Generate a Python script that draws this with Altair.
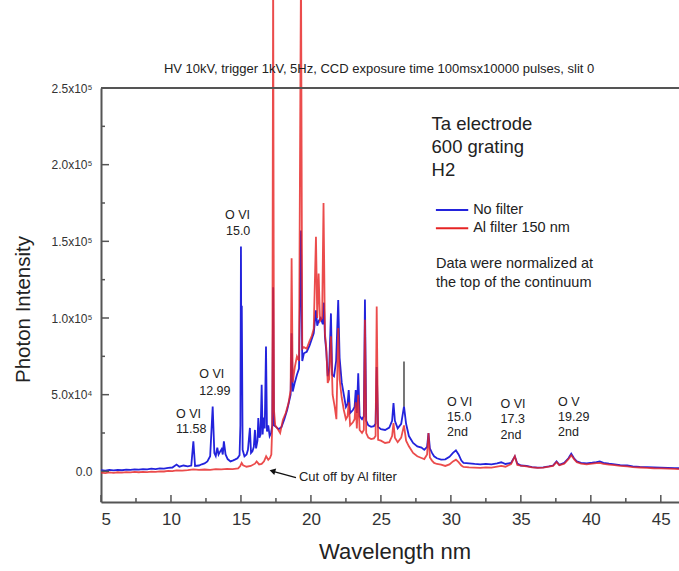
import altair as alt
import pandas as pd

# ---------------- data ----------------
blue_x = [5.0, 5.3, 5.6, 5.9, 6.2, 6.5, 6.8, 7.1, 7.4, 7.7, 8.0, 8.3, 8.6, 8.9, 9.2, 9.5, 9.8, 10.1,
          10.4, 10.6, 10.9, 11.2, 11.45, 11.6, 11.72, 12.0, 12.2, 12.4, 12.6, 12.8, 12.98, 13.1, 13.2,
          13.31, 13.4, 13.52, 13.62, 13.7, 13.78, 13.9, 14.05, 14.25, 14.45, 14.6, 14.75, 14.9, 14.96,
          15.0, 15.03, 15.06, 15.12, 15.25, 15.4, 15.5, 15.64, 15.72, 15.82, 15.92, 16.0, 16.08, 16.18,
          16.24, 16.32, 16.4, 16.48, 16.55, 16.62, 16.7, 16.79, 16.86, 16.95, 17.05, 17.15, 17.24, 17.3,
          17.36, 17.5, 17.7, 17.9, 18.1, 18.3, 18.45, 18.55, 18.62, 18.7, 18.85, 19.0, 19.15, 19.29,
          19.38, 19.5, 19.7, 19.9, 20.05, 20.2, 20.36, 20.45, 20.55, 20.7, 20.85, 20.93, 21.0, 21.1,
          21.2, 21.3, 21.43, 21.52, 21.65, 21.8, 21.95, 22.05, 22.2, 22.35, 22.5, 22.62, 22.7, 22.8,
          23.0, 23.12, 23.2, 23.28, 23.38, 23.48, 23.65, 23.78, 23.86, 23.95, 24.1, 24.3, 24.5, 24.62,
          24.7, 24.8, 25.0, 25.3, 25.6, 25.8, 25.9, 26.0, 26.2, 26.45, 26.65, 26.8, 27.0, 27.3, 27.6,
          27.9, 28.1, 28.3, 28.4, 28.5, 28.65, 28.8, 29.0, 29.3, 29.6, 29.9, 30.15, 30.36, 30.55, 30.75,
          30.9, 31.3, 31.7, 32.1, 32.5, 32.9, 33.3, 33.6, 33.9, 34.3, 34.57, 34.75, 35.0, 35.4, 35.8,
          36.2, 36.6, 37.0, 37.3, 37.55, 37.75, 38.1, 38.4, 38.6, 38.8, 39.0, 39.3, 39.7, 40.1, 40.4,
          40.64, 40.9, 41.3, 41.7, 42.1, 42.6, 43.0, 43.5, 44.0, 44.5, 45.0, 45.5, 46.0, 46.3]
blue_y = [800, 400, 900, 600, 1000, 700, 1100, 900, 1300, 1100, 1500, 1300, 1700, 1500, 1900, 1800, 2300, 2500,
          4400, 3000, 3800, 3300, 3800, 19500, 3500, 3800, 4600, 5200, 6500, 9800, 42300, 12000, 10000,
          15500, 11000, 13000, 14500, 11000, 19500, 11000, 8000, 6500, 7200, 7800, 8500, 10500, 30000,
          146600, 60000, 108000, 14000, 9800, 11000, 14000, 28300, 12000, 13000, 16000, 27000, 15000, 20000,
          34800, 22000, 24000, 56500, 24000, 35000, 28000, 81400, 26000, 30000, 23000, 25000, 30000, 120000,
          30000, 29000, 27500, 29000, 34000, 40000, 46000, 50000, 90000, 52000, 58000, 63000, 67000, 157000,
          72000, 77000, 78000, 82000, 86000, 90000, 105000, 95000, 98000, 100000, 96000, 110000, 88000, 78000,
          62000, 66000, 103000, 63000, 62000, 72000, 111800, 74000, 58000, 50000, 42000, 44000, 53000, 38000,
          40000, 42000, 53000, 38000, 64000, 36000, 34000, 36000, 112000, 33000, 30000, 29000, 29500, 31000,
          68000, 29000, 27500, 27000, 28500, 33000, 44500, 33000, 28000, 31000, 42300, 31000, 23000, 18500, 16300,
          15500, 14000, 16000, 25000, 15000, 12000, 9800, 8500, 7600, 7800, 9500, 12000, 13700, 11000, 7000,
          5500, 5200, 4800, 4500, 4900, 4600, 5200, 5900, 4800, 5500, 9800, 5000, 3800, 3500, 2800,
          2400, 2600, 3200, 3800, 6500, 4200, 5500, 8500, 11500, 8500, 6500, 5500, 5200, 5600, 6000,
          6500, 5500, 5000, 4600, 4000, 3800, 3300, 2900, 2700, 2600, 2400, 2300, 2100, 2000]

red_x = [5.0, 5.3, 5.6, 5.9, 6.2, 6.5, 6.8, 7.1, 7.4, 7.7, 8.0, 8.3, 8.6, 8.9, 9.2, 9.5, 9.8, 10.1,
         10.4, 10.8, 11.2, 11.6, 12.0, 12.4, 12.8, 13.2, 13.6, 14.0, 14.4, 14.8, 14.95, 15.05, 15.15,
         15.4, 15.7, 16.0, 16.12, 16.3, 16.48, 16.65, 16.8, 16.95, 17.07, 17.17, 17.24, 17.3, 17.36,
         17.45, 17.6, 17.8, 18.0, 18.2, 18.4, 18.55, 18.62, 18.7, 18.85, 19.0, 19.15, 19.29, 19.38,
         19.5, 19.7, 19.9, 20.05, 20.2, 20.36, 20.45, 20.55, 20.65, 20.8, 20.9, 21.0, 21.1, 21.2, 21.3,
         21.43, 21.55, 21.7, 21.82, 21.95, 22.05, 22.2, 22.35, 22.5, 22.62, 22.7, 22.8, 23.0, 23.12,
         23.2, 23.28, 23.38, 23.48, 23.65, 23.78, 23.86, 23.95, 24.1, 24.3, 24.5, 24.62, 24.7, 24.8,
         25.0, 25.3, 25.6, 25.8, 25.9, 26.0, 26.2, 26.45, 26.65, 26.8, 27.0, 27.3, 27.6, 27.9, 28.1,
         28.3, 28.4, 28.5, 28.65, 28.8, 29.0, 29.3, 29.6, 29.9, 30.15, 30.36, 30.55, 30.75, 30.9, 31.3,
         31.7, 32.1, 32.5, 32.9, 33.3, 33.6, 33.9, 34.3, 34.57, 34.75, 35.0, 35.4, 35.8, 36.2, 36.6,
         37.0, 37.3, 37.55, 37.75, 38.1, 38.4, 38.6, 38.8, 39.0, 39.3, 39.7, 40.1, 40.4, 40.64, 40.9,
         41.3, 41.7, 42.1, 42.6, 43.0, 43.5, 44.0, 44.5, 45.0, 45.5, 46.0, 46.3]
red_y = [-900, -1200, -700, -1000, -600, -900, -500, -700, -400, -600, -300, -500, -200, -300, 0, -100, 300, 200,
         600, 500, 800, 1300, 900, 1200, 1000, 1400, 1300, 1600, 1500, 1900, 3500, 5500, 4000,
         3000, 3500, 5000, 6500, 4500, 4800, 6500, 9800, 7500, 8700, 11000, 30000, 330000, 40000,
         30000, 28000, 25000, 33700, 38000, 44500, 53000, 139000, 58000, 68000, 75000, 72000, 330000, 80000,
         81000, 80000, 85000, 88000, 93000, 153000, 100000, 129000, 98000, 100000, 175000, 90000, 80000, 57600, 60000,
         88000, 50000, 42000, 34000, 93400, 60000, 48000, 40000, 34000, 36000, 45000, 30000, 32000, 34000,
         45000, 28000, 50000, 27000, 25000, 27000, 98800, 25000, 22000, 21000, 21500, 23000, 107500, 20600,
         20000, 18500, 19000, 23000, 31500, 22000, 19000, 22000, 30000, 20000, 16300, 12000, 9800, 8700, 8000,
         11000, 25000, 9000, 7000, 5500, 4800, 4400, 3500, 4500, 6500, 7600, 6000, 3800, 2900, 2600,
         2400, 2200, 2600, 2400, 3000, 3500, 3000, 4800, 9800, 4200, 3700, 3200, 2600, 2200, 2400,
         3000, 3600, 6000, 4000, 5000, 8000, 10500, 8000, 6000, 5000, 4600, 5000, 5300, 5500, 4800,
         4400, 4000, 3500, 3200, 2800, 2500, 2300, 2000, 1900, 1800, 1600, 1500]

# grey spike near 26.65 nm (from, to)
spike_x = [26.65]
spike_y1 = [42300]
spike_y2 = [71700]

x_major = [5, 10, 15, 20, 25, 30, 35, 40, 45]
x_minor = [7.5, 12.5, 17.5, 22.5, 27.5, 32.5, 37.5, 42.5]
y_major = [0, 50000, 100000, 150000, 200000, 250000]
y_minor = [25000, 75000, 125000, 175000, 225000]

title_text = "HV 10kV, trigger 1kV, 5Hz, CCD exposure time 100msx10000 pulses, slit 0"

note_text = ["Ta electrode", "600 grating", "H2", "No filter", "Al filter 150 nm",
             "Data were normalized at", "the top of the continuum",
             "O VI", "11.58", "O VI", "12.99", "O VI", "15.0",
             "O VI", "15.0", "2nd", "O VI", "17.3", "2nd", "O V", "19.29", "2nd",
             "Cut off by Al filter"]
note_x = [28.62, 28.62, 28.62, 31.59, 31.59, 28.93, 28.93,
          10.36, 10.36, 12.02, 12.02, 13.86, 13.93,
          29.73, 29.73, 29.73, 33.55, 33.55, 33.55, 37.66, 37.66, 37.66,
          19.14]
note_y = [226500, 211700, 196500, 170400, 158500, 135300, 123000,
          37400, 27400, 63300, 52400, 167200, 156900,
          45000, 35600, 25400, 43900, 33900, 23700, 45400, 35600, 25400,
          -3700]
note_size = [18.5, 18.5, 18.5, 14.5, 14.5, 14.5, 14.5,
             12.5, 12.5, 12.5, 12.5, 12.5, 12.5,
             12.5, 12.5, 12.5, 12.5, 12.5, 12.5, 12.5, 12.5, 12.5,
             13]

legend_names = ["No filter", "Al filter 150 nm"]
legend_colors = ["#2323dc", "#e62424"]
legend_x1 = [28.93, 28.93]
legend_x2 = [31.24, 31.24]
legend_y = [170400, 158500]

# ---------------- chart ----------------
FONT = "Liberation Sans"
W, H = 578, 414
xs = alt.Scale(domain=[5, 46.3], nice=False, zero=False)
ys = alt.Scale(domain=[-20000, 250000], nice=False, zero=False)

blue_df = pd.DataFrame({"x": blue_x, "y": blue_y})
red_df = pd.DataFrame({"x": red_x, "y": red_y})

label_expr = ("datum.value == 0 ? '0.0' : (datum.value < 100000 ? "
              "format(datum.value/10000, '.1f') + 'x10\u2074' : "
              "format(datum.value/100000, '.1f') + 'x10\u2075')")

x_axis = alt.Axis(values=x_major, format="d", ticks=False, grid=False, labelPadding=9,
                  labelFontSize=17, labelColor="#333333", labelFont=FONT,
                  domainColor="#555555", domainWidth=2,
                  title="Wavelength nm", titleFontSize=22, titleFontWeight="normal",
                  titleColor="#222222", titleFont=FONT, titleX=293.6, titleY=56,
                  titleBaseline="alphabetic", titleAlign="center")
y_axis = alt.Axis(values=y_major, labelExpr=label_expr, ticks=False, grid=False, labelPadding=9,
                  labelFontSize=12, labelColor="#333333", labelFont=FONT,
                  domainColor="#555555", domainWidth=2,
                  title="Photon Intensity", titleFontSize=20.5, titleFontWeight="normal",
                  titleColor="#222222", titleFont=FONT, titleAngle=270, titleX=-71.5, titleY=221,
                  titleBaseline="alphabetic", titleAlign="center")


def X(field):
    return alt.X(field, scale=xs, axis=x_axis)


def Y(field):
    return alt.Y(field, scale=ys, axis=y_axis)


blue = alt.Chart(blue_df).mark_line(color="#2323dc", strokeWidth=1.8, clip=False).encode(
    x=X("x:Q"), y=Y("y:Q"), order="x:Q")
red = alt.Chart(red_df).mark_line(color="#e62424", strokeWidth=1.8, opacity=0.82, clip=False).encode(
    x=X("x:Q"), y=Y("y:Q"), order="x:Q")
spike = alt.Chart(pd.DataFrame({"x": spike_x, "y1": spike_y1, "y2": spike_y2})).mark_rule(
    color="#555555", strokeWidth=1.6).encode(x=X("x:Q"), y=Y("y1:Q"), y2="y2:Q")

top_border = alt.Chart(pd.DataFrame({"v": [250000]})).mark_rule(color="#555555", strokeWidth=2).encode(
    y=Y("v:Q"))
xt_major = alt.Chart(pd.DataFrame({"v": x_major})).mark_rule(color="#555555", strokeWidth=1.5).encode(
    x=X("v:Q"), y=alt.value(H), y2=alt.value(H - 7))
xt_minor = alt.Chart(pd.DataFrame({"v": x_minor})).mark_rule(color="#555555", strokeWidth=1.5).encode(
    x=X("v:Q"), y=alt.value(H), y2=alt.value(H - 4))
yt_major = alt.Chart(pd.DataFrame({"v": y_major})).mark_rule(color="#555555", strokeWidth=1.5).encode(
    y=Y("v:Q"), x=alt.value(0), x2=alt.value(8))
yt_minor = alt.Chart(pd.DataFrame({"v": y_minor})).mark_rule(color="#555555", strokeWidth=1.5).encode(
    y=Y("v:Q"), x=alt.value(0), x2=alt.value(4))

title = alt.Chart(pd.DataFrame({"x": [24.87], "y": [262400], "t": [title_text]})).mark_text(
    font=FONT, fontSize=13, color="#222222", align="center", baseline="middle").encode(
    x=X("x:Q"), y=Y("y:Q"), text="t:N")

notes = alt.Chart(pd.DataFrame({"x": note_x, "y": note_y, "t": note_text, "s": note_size})).mark_text(
    font=FONT, color="#222222", align="left", baseline="middle").encode(
    x=X("x:Q"), y=Y("y:Q"), text="t:N",
    size=alt.Size("s:Q", scale=None, legend=None))

legend_lines = alt.Chart(pd.DataFrame({"n": legend_names, "c": legend_colors, "x1": legend_x1,
                                       "x2": legend_x2, "y": legend_y})).mark_rule(strokeWidth=2).encode(
    x=X("x1:Q"), x2="x2:Q", y=Y("y:Q"),
    color=alt.Color("c:N", scale=None, legend=None))

arrow_line = alt.Chart(pd.DataFrame({"x1": [18.93], "x2": [17.36], "y1": [-4040], "y2": [-130]})).mark_rule(
    color="#111111", strokeWidth=1.3).encode(
    x=X("x1:Q"), x2="x2:Q", y=Y("y1:Q"), y2="y2:Q")
arrow_head = alt.Chart(pd.DataFrame({"x": [17.25], "y": [200]})).mark_point(
    shape="triangle-left", filled=True, color="#111111", size=45, angle=16, opacity=1).encode(
    x=X("x:Q"), y=Y("y:Q"))

chart = alt.layer(
    blue, red, spike, top_border, xt_major, xt_minor, yt_major, yt_minor,
    title, notes, legend_lines, arrow_line, arrow_head
).properties(
    width=W, height=H,
    padding={"left": 101, "top": 88, "right": 0, "bottom": 69},
    autosize=alt.AutoSizeParams(type="none"),
    background="white",
).configure_view(stroke=None).configure(font=FONT)

chart.save("out.html", embed_options={"renderer": "svg", "actions": False})
